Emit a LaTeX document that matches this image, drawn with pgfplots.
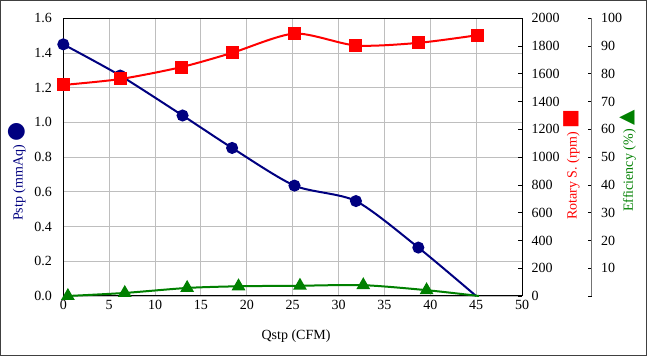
\documentclass[border=0pt]{standalone}
\usepackage{pgfplots}
\pgfplotsset{compat=1.18}
\usepackage{fontspec}
\setmainfont{Liberation Serif}
\newfontfamily\sym{DejaVu Sans}
\definecolor{navy}{RGB}{0,0,128}
\definecolor{xgreen}{RGB}{0,128,0}
\definecolor{gridgray}{RGB}{190,190,190}
\begin{document}
\begin{tikzpicture}
\useasboundingbox (0,0) rectangle (647bp,356bp);
\draw[black!75, line width=1.2bp] (0.6bp,0.6bp) rectangle (646.4bp,355.4bp);
\pgfplotsset{
  every axis/.append style={
    scale only axis, clip=false,
    at={(63.3bp,60bp)}, anchor=south west,
    height=277.7bp,
    font=\fontsize{14bp}{16bp}\selectfont,
    /pgf/number format/assume math mode=true,
    /pgf/number format/1000 sep={},
    tick align=inside,
    major tick length=4bp,
  },
}
% main axis: Pstp
\begin{axis}[
  width=458.7bp,
  xmin=0, xmax=50, ymin=0, ymax=1.6,
  xtick={0,5,...,50}, ytick={0,0.2,...,1.6},
  yticklabel style={/pgf/number format/fixed, /pgf/number format/fixed zerofill, /pgf/number format/precision=1, xshift=-8bp},
  xticklabel style={yshift=-1bp},
  tick pos=left,
  grid=major, grid style={gridgray, line width=0.9bp},
  axis line style={black, line width=1bp},
  tick style={draw=none},
  xlabel={Qstp (CFM)},
  xlabel style={at={(axis description cs:0.5074,-0.144)}, anchor=center},
  ylabel={\textcolor{navy}{Pstp (mmAq) {\sym\fontsize{22bp}{22bp}\selectfont ●}}},
  every axis y label/.style={at={(axis description cs:-0.1009,0.4478)}, rotate=90, anchor=center},
]
\addplot[navy, line width=2bp, smooth, tension=0.45, mark=*, mark size=5bp, mark options={solid, fill=navy}, mark indices={1,2,3,4,5,6,7}]
coordinates {(0,1.45) (6.2,1.27) (13.0,1.04) (18.4,0.853) (25.2,0.636) (31.9,0.547) (38.7,0.279) (45,0)};
\end{axis}
% second axis: rotary speed
\begin{axis}[
  width=458.7bp,
  xmin=0, xmax=50, ymin=0, ymax=2000,
  axis x line=none, axis y line*=right,
  ytick={0,200,...,2000},
  yticklabel style={xshift=6bp},
  axis line style={black, line width=1bp},
  tick style={black, line width=0.8bp},
  ylabel={\textcolor{red}{Rotary S. (rpm) {\sym\fontsize{20bp}{20bp}\selectfont ■}}},
  every axis y label/.style={at={(axis description cs:1.1083,0.473)}, rotate=90, anchor=center},
]
\addplot[red, line width=2bp, smooth, tension=0.45, mark=square*, mark size=5.5bp, mark options={solid, fill=red}]
coordinates {(0,1520) (6.26,1563) (12.9,1649) (18.4,1751) (25.2,1890) (31.9,1804) (38.7,1823) (45.1,1878)};
\end{axis}
% third axis: efficiency
\begin{axis}[
  width=528.4bp,
  xmin=0, xmax=57.6, ymin=0, ymax=100,
  axis x line=none, axis y line*=right,
  ytick={0,10,...,100},
  yticklabels={{},10,20,30,40,50,60,70,80,90,100},
  yticklabel style={xshift=6bp},
  axis line style={black!55, line width=1bp},
  tick style={black, line width=0.8bp},
  ylabel={\textcolor{xgreen}{Efficiency (\%) {\sym\fontsize{20bp}{20bp}\selectfont ▲}}},
  every axis y label/.style={at={(axis description cs:1.0687,0.4856)}, rotate=90, anchor=center},
]
\addplot[xgreen, line width=2bp, smooth, tension=0.45, mark=triangle*, mark size=6bp, mark options={solid, fill=xgreen}, mark indices={1,2,3,4,5,6,7}]
coordinates {(0.5,0) (6.7,1.1) (13.5,2.9) (19.1,3.5) (25.8,3.7) (32.7,3.9) (39.6,2.1) (45.3,0)};
\end{axis}
\end{tikzpicture}
\end{document}
